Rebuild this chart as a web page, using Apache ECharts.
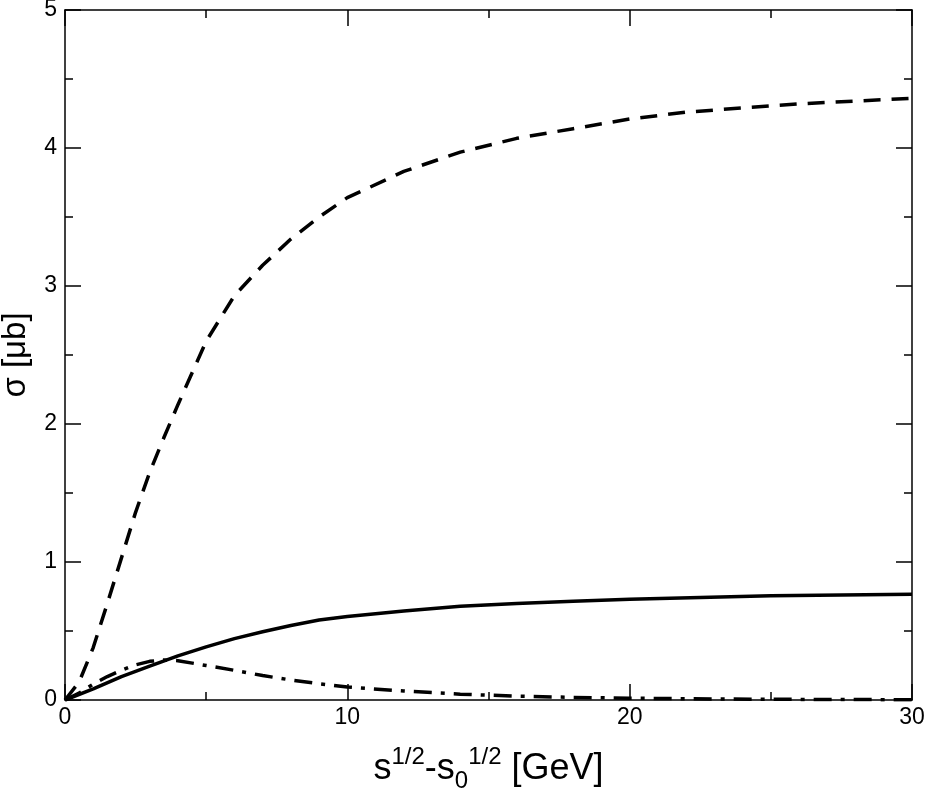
<!DOCTYPE html>
<html>
<head>
<meta charset="utf-8">
<script src="https://cdn.jsdelivr.net/npm/echarts@6/dist/echarts.min.js"></script>
<style>html,body{margin:0;padding:0;background:#fff;}#c{width:927px;height:792px;}</style>
</head>
<body>
<div id="c"></div>
<script>
// Dashed curve
const dashedX = [0, 0.5, 1, 1.5, 2, 2.5, 3, 3.5, 4, 5, 6, 7, 8, 9, 10, 12, 14, 16, 18, 20, 22, 24, 26, 28, 30];
const dashedY = [0, 0.13, 0.38, 0.70, 1.03, 1.36, 1.65, 1.90, 2.14, 2.60, 2.93, 3.15, 3.34, 3.50, 3.64, 3.83, 3.97, 4.07, 4.14, 4.21, 4.26, 4.29, 4.32, 4.34, 4.36];
// Solid curve
const solidX = [0, 1, 2, 3, 4, 5, 6, 7, 8, 9, 10, 12, 14, 16, 18, 20, 25, 30];
const solidY = [0, 0.08, 0.17, 0.245, 0.32, 0.385, 0.445, 0.495, 0.54, 0.58, 0.605, 0.645, 0.68, 0.70, 0.715, 0.73, 0.755, 0.767];
// Dash-dot curve
const dashDotX = [0, 0.5, 1, 1.5, 2, 2.5, 3, 3.5, 4, 5, 6, 7, 8, 9, 10, 12, 14, 16, 18, 20, 22, 25, 30];
const dashDotY = [0, 0.05, 0.115, 0.17, 0.215, 0.255, 0.28, 0.29, 0.285, 0.25, 0.215, 0.177, 0.145, 0.118, 0.094, 0.065, 0.042, 0.028, 0.019, 0.013, 0.009, 0.005, 0.002];
// Axis ticks
const xTicks = [0, 10, 20, 30];
const yTicks = [0, 1, 2, 3, 4, 5];

function pairs(xs, ys) { return xs.map((x, i) => [x, ys[i]]); }

const FONT = 'Liberation Sans, Arial, Helvetica, sans-serif';
const black = '#000';

function xAxisCfg(pos, showLabels) {
  return {
    type: 'value', position: pos, min: xTicks[0], max: xTicks[xTicks.length - 1], interval: 10,
    axisLine: { show: true, onZero: false, lineStyle: { color: black, width: 1.5 } },
    axisTick: { show: true, inside: true, length: 16, lineStyle: { color: black, width: 1.5 } },
    minorTick: { show: true, splitNumber: 2, length: 8, lineStyle: { color: black, width: 1.5 } },
    splitLine: { show: false },
    axisLabel: { show: showLabels, color: black, fontSize: 23, fontFamily: FONT, margin: 6 },
    name: showLabels ? '{b|s}{sup|1/2}{b|-s}{sub|0}{sup|1/2}{b| [GeV]}' : '',
    nameLocation: 'middle', nameGap: 45,
    nameTextStyle: {
      fontFamily: FONT, color: black,
      rich: {
        b: { fontSize: 36, fontFamily: FONT, color: black, lineHeight: 48, verticalAlign: 'middle' },
        sup: { fontSize: 24, fontFamily: FONT, color: black, lineHeight: 48, verticalAlign: 'top' },
        sub: { fontSize: 24, fontFamily: FONT, color: black, lineHeight: 48, verticalAlign: 'bottom' }
      }
    }
  };
}
function yAxisCfg(pos, showLabels) {
  return {
    type: 'value', position: pos, min: yTicks[0], max: yTicks[yTicks.length - 1], interval: 1,
    axisLine: { show: true, onZero: false, lineStyle: { color: black, width: 1.5 } },
    axisTick: { show: true, inside: true, length: 16, lineStyle: { color: black, width: 1.5 } },
    minorTick: { show: true, splitNumber: 2, length: 8, lineStyle: { color: black, width: 1.5 } },
    splitLine: { show: false },
    axisLabel: { show: showLabels, color: black, fontSize: 23, fontFamily: FONT, margin: 8 },
    name: showLabels ? 'σ [μb]' : '',
    nameLocation: 'middle', nameGap: 33, nameRotate: 90,
    nameTextStyle: { fontSize: 33, fontFamily: FONT, color: black }
  };
}

const chart = echarts.init(document.getElementById('c'), null, { renderer: 'canvas' });
chart.setOption({
  backgroundColor: '#fff',
  animation: false,
  grid: { left: 65, right: 15, top: 10, bottom: 92, containLabel: false, outerBoundsMode: 'none' },
  xAxis: [xAxisCfg('bottom', true), xAxisCfg('top', false)],
  yAxis: [yAxisCfg('left', true), yAxisCfg('right', false)],
  series: [
    { type: 'line', data: pairs(dashedX, dashedY), showSymbol: false, smooth: false,
      lineStyle: { color: black, width: 3.5, type: [17, 11], cap: 'butt' } },
    { type: 'line', data: pairs(solidX, solidY), showSymbol: false, smooth: false,
      lineStyle: { color: black, width: 3.5, type: 'solid' } },
    { type: 'line', data: pairs(dashDotX, dashDotY), showSymbol: false, smooth: false,
      lineStyle: { color: black, width: 3.5, type: [18, 9, 4, 9], cap: 'butt' } }
  ]
});
</script>
</body>
</html>
